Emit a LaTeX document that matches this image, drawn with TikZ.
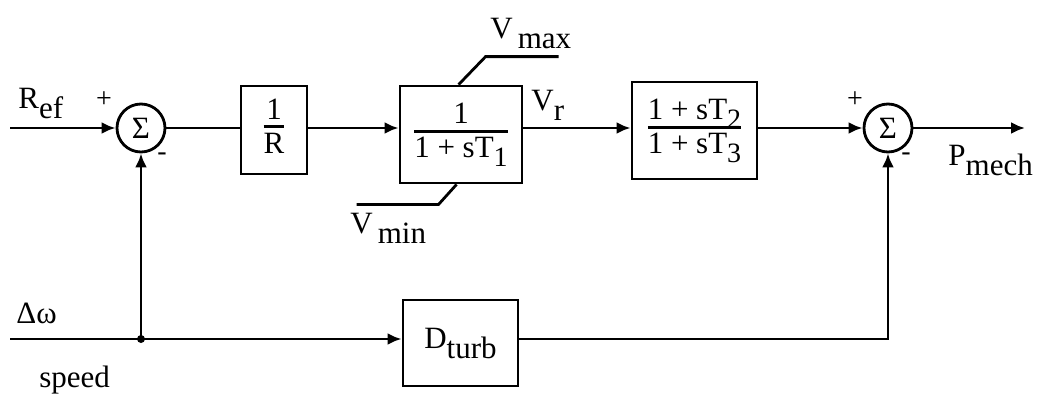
\documentclass[tikz,border=0pt]{standalone}
\usepackage{fontspec}
\setmainfont{Liberation Serif}
\usetikzlibrary{arrows.meta,calc}
\newcommand{\lsub}[1]{\raisebox{-10pt}{#1}}
\newcommand{\tsub}[1]{\raisebox{-9pt}{\fontsize{28}{30}\selectfont #1}}
\newcommand{\frc}[2]{\setlength{\arrayrulewidth}{2.8pt}\renewcommand{\arraystretch}{0.9}\begin{tabular}{@{}c@{}}#1\\[-3pt]\hline\rule{0pt}{25pt}#2\end{tabular}}
\begin{document}
\begin{tikzpicture}[x=1pt,y=-1pt, line width=2.8pt,
  every node/.style={font=\fontsize{31}{34}\selectfont, inner sep=0pt},
  blk/.style={draw, line width=2.8pt, inner sep=0pt},
  sumc/.style={draw, circle, line width=2.8pt, minimum size=48pt, inner sep=0pt},
  arr/.style={-{Latex[length=14pt,width=12pt]}},
  lbl/.style={anchor=base west},
  sgn/.style={font=\fontsize{28}{30}\selectfont}]
\useasboundingbox (0,0) rectangle (1045,399);
% blocks
\node[sumc] (s1) at (141,128) {Σ};
\node[blk, minimum width=66pt, minimum height=88pt] (b1) at (274,130) {\frc{1}{R}};
\node[blk, minimum width=122pt, minimum height=97pt] (b2) at (461,134.5) {\frc{1}{1 + sT\tsub{1}}};
\node[blk, minimum width=125pt, minimum height=97pt] (b3) at (694.5,130.5) {\frc{1 + sT\tsub{2}}{1 + sT\tsub{3}}};
\node[sumc] (s2) at (888,128) {Σ};
\node[blk, minimum width=115pt, minimum height=86pt] (bd) at (460.5,343) {D\lsub{turb}};
% coordinates
\coordinate (in1) at (10,128);
\coordinate (out) at (1025,128);
\coordinate (in2) at (10,339);
\coordinate (j) at (141,339);
\coordinate (c2) at (888,339);
% connectors
\draw[arr] (in1) -- (s1.west);
\draw (s1.east) -- (b1.west |- in1);
\draw[arr] (b1.east |- in1) -- (b2.west |- in1);
\draw[arr] (b2.east |- in1) -- (b3.west |- in1);
\draw[arr] (b3.east |- in1) -- (s2.west);
\draw[arr] (s2.east) -- (out);
\draw[arr] (in2) -- (bd.west |- in2);
\draw[arr] (j) -- (s1.south);
\fill (j) circle (4pt);
\draw[arr] (bd.east |- in2) -- (c2) -- (s2.south);
% limiter lines
\draw ($(b2.north west)+(60,0)$) -- ++(27,-28) -- ++(73,0);
\draw ($(b2.south west)+(58,0)$) -- ++(-18,20) -- ++(-82,0);
% labels
\node[lbl] (ref) at (17,108) {R\lsub{ef}};
\node[sgn] (p1) at (104,100) {+};
\node[sgn] (m1) at (162,157) {-};
\node[sgn] (p2) at (855,100) {+};
\node[sgn] (m2) at (906,157) {-};
\node[lbl] (vmax) at (489,38) {V\hspace{5pt}\lsub{max}};
\node[lbl] (vmin) at (349,233) {V\hspace{5pt}\lsub{min}};
\node[lbl] (vr) at (530,110) {V\lsub{r}};
\node[lbl] (pm) at (947,165) {P\lsub{mech}};
\node[lbl] (dw) at (15,323) {Δω};
\node[lbl] (sp) at (38,387) {speed};
\end{tikzpicture}
\end{document}
